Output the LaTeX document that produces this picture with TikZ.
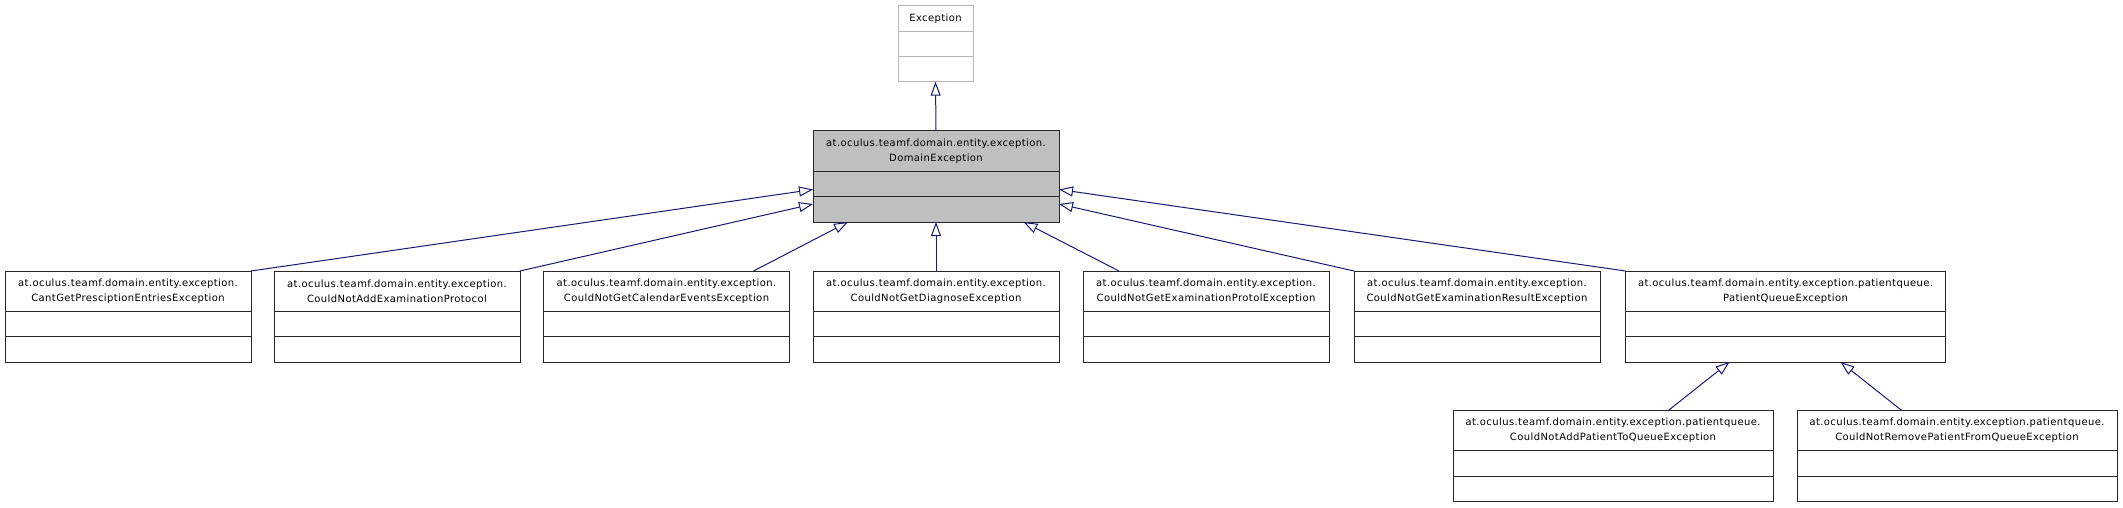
\documentclass[tikz,border=0pt]{standalone}
\usepackage{fontspec}
\setmainfont[LetterSpace=4]{DejaVu Sans}
\usetikzlibrary{arrows.meta,calc}
\definecolor{edgeblue}{RGB}{25,25,112}
\definecolor{boxline}{RGB}{40,40,40}
\definecolor{domfill}{RGB}{191,191,191}
\definecolor{excline}{RGB}{180,180,180}
\tikzset{
  cls/.style={draw=boxline, line width=1pt, fill=white, inner sep=0pt, outer sep=0pt, rectangle},
  ttl/.style={inner sep=0pt, outer sep=0pt, align=center, font=\fontsize{10}{15}\selectfont},
  div/.style={draw=boxline, line width=1pt},
  grayed/.style={draw=excline, line width=1pt},
  dom/.style={fill=domfill},
  plain/.style={},
  gen/.style={draw=edgeblue, line width=1pt, -{Triangle[open, length=14pt, width=10pt, line width=1pt]}},
}
\newcommand{\umlbox}[7]{%
  \node[cls,#7,minimum width=#3,minimum height=#4] (#1) at (#2) {};
  \node[ttl, minimum width=#3, minimum height=#5, anchor=north] (#1-t) at (#1.north) {#6};
  \draw[div,#7] (#1-t.south west) -- (#1-t.south east);
  \draw[div,#7] ($(#1-t.south west)!0.5!(#1.south west)$) -- ($(#1-t.south east)!0.5!(#1.south east)$);
}
\begin{document}
\begin{tikzpicture}[x=1pt,y=-1pt]
\useasboundingbox (0,0) rectangle (2123,508);
\umlbox{exc}{935.5,43.7}{75}{76}{25.6}{Exception}{grayed}
\umlbox{dom}{936,176.5}{246}{91}{40}{at.oculus.teamf.domain.entity.exception.\\DomainException}{dom}
\umlbox{b1}{128,316.5}{246}{91}{40}{at.oculus.teamf.domain.entity.exception.\\CantGetPresciptionEntriesException}{plain}
\umlbox{b2}{397,316.5}{246}{91}{40}{at.oculus.teamf.domain.entity.exception.\\CouldNotAddExaminationProtocol}{plain}
\umlbox{b3}{666.5,316.5}{246}{91}{40}{at.oculus.teamf.domain.entity.exception.\\CouldNotGetCalendarEventsException}{plain}
\umlbox{b4}{936,316.5}{246}{91}{40}{at.oculus.teamf.domain.entity.exception.\\CouldNotGetDiagnoseException}{plain}
\umlbox{b5}{1206,316.5}{246}{91}{40}{at.oculus.teamf.domain.entity.exception.\\CouldNotGetExaminationProtolException}{plain}
\umlbox{b6}{1477,316.5}{246}{91}{40}{at.oculus.teamf.domain.entity.exception.\\CouldNotGetExaminationResultException}{plain}
\umlbox{b7}{1785.5,316.5}{320}{91}{40}{at.oculus.teamf.domain.entity.exception.patientqueue.\\PatientQueueException}{plain}
\umlbox{c1}{1613,456.2}{320}{91}{40}{at.oculus.teamf.domain.entity.exception.patientqueue.\\CouldNotAddPatientToQueueException}{plain}
\umlbox{c2}{1957,456.2}{320}{91}{40}{at.oculus.teamf.domain.entity.exception.patientqueue.\\CouldNotRemovePatientFromQueueException}{plain}
% generalizations
\draw[gen] (dom.north) -- (exc.south);
\draw[gen] (b1.north east) -- ([yshift=-13pt]dom.west);
\draw[gen] (b2.north east) -- ([yshift=-27.5pt]dom.west);
\draw[gen] ([xshift=87pt]b3.north) -- ([xshift=-88pt]dom.south);
\draw[gen] (b4.north) -- (dom.south);
\draw[gen] ([xshift=-87pt]b5.north) -- ([xshift=87.5pt]dom.south);
\draw[gen] (b6.north west) -- ([yshift=-27.5pt]dom.east);
\draw[gen] (b7.north west) -- ([yshift=-13pt]dom.east);
\draw[gen] ([xshift=55pt]c1.north) -- ([xshift=-56pt]b7.south);
\draw[gen] ([xshift=-55pt]c2.north) -- ([xshift=55pt]b7.south);
\end{tikzpicture}
\end{document}
